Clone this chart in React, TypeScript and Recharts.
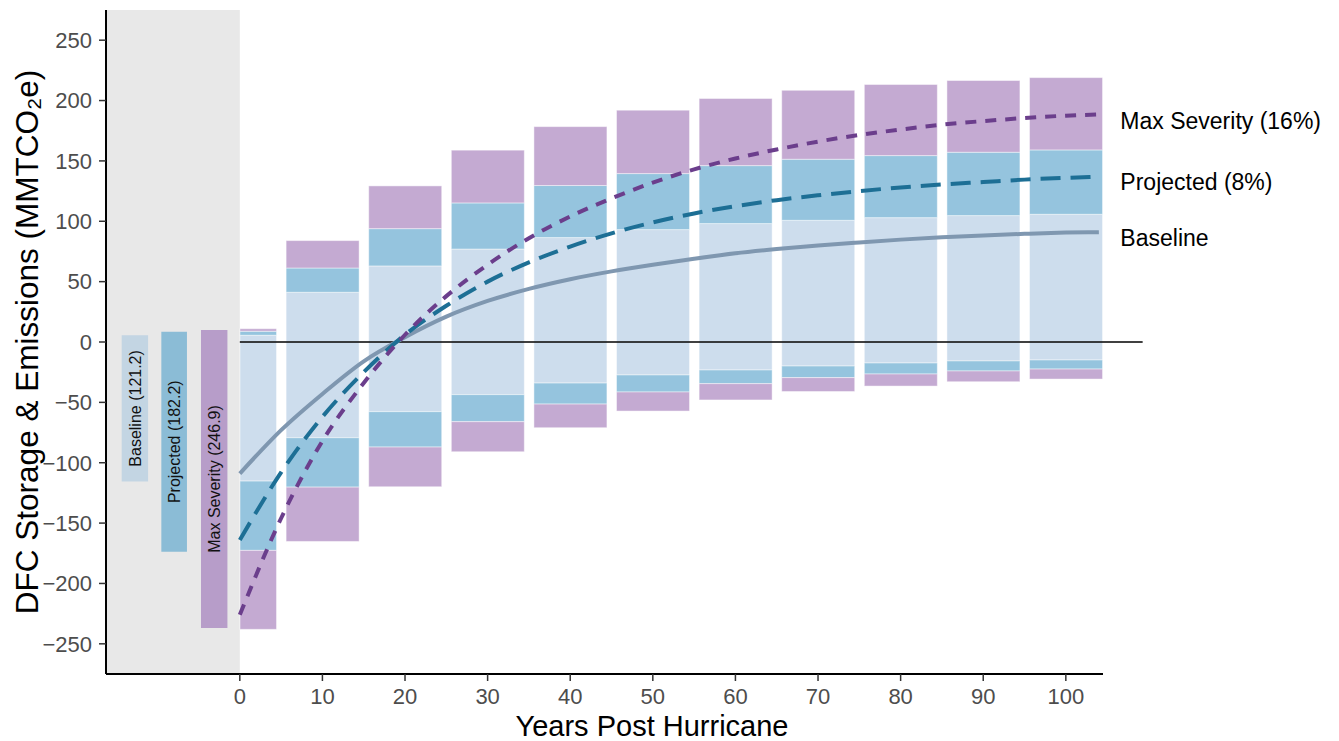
import React from 'react';
import { ComposedChart, Bar, Line, XAxis, YAxis, ReferenceArea, ReferenceLine, ReferenceDot, Label } from 'recharts';

const FONT = '"Liberation Sans", Arial, Helvetica, sans-serif';

// stacked bars: cumulative levels read at each decade
const years = [0, 10, 20, 30, 40, 50, 60, 70, 80, 90, 100];
const baselineTop = [5.6, 41.2, 63, 77, 86.5, 93.1, 98.1, 100.8, 103, 104.7, 105.8];
const projectedTop = [8.9, 61.3, 93.9, 115.2, 129.6, 139.5, 146.1, 151.4, 154.4, 157.2, 159.1];
const maxTop = [11, 84, 129.3, 158.9, 178.4, 192, 201.7, 208.5, 213.3, 216.6, 219];
const baselineBottom = [-115.2, -79.3, -57.7, -43.6, -34, -27.3, -23.2, -19.9, -17.4, -15.7, -14.9];
const projectedBottom = [-172.6, -120.2, -87, -66, -51.4, -41.4, -34.5, -29.5, -26.5, -24, -22.4];
const maxBottom = [-238, -165.2, -119.9, -90.9, -71, -57.2, -48, -41, -36.5, -32.9, -30.7];

// net curves
const lineYears = [0, 5, 10, 15, 20, 25, 30, 35, 40, 45, 50, 55, 60, 65, 70, 75, 80, 85, 90, 95, 100, 104];
const baselineLine = [-109, -73, -43, -16, 4, 21, 34, 44, 52, 58.5, 64, 69, 73.5, 77, 80, 82.5, 84.8, 86.7, 88.3, 89.6, 90.6, 91];
const projectedLine = [-164, -108, -62, -25, 6, 30, 50, 66, 79, 90, 99, 106.5, 112.5, 117.5, 121.5, 125, 128, 130.5, 132.5, 134.5, 136, 137];
const maxLine = [-226, -146, -82, -34, 6, 38, 64, 86, 104, 119, 132, 143, 152, 159.5, 166, 171.5, 176, 180, 183, 185.5, 187.5, 188.5];

// totals key in the grey panel
const keyNames = ['Baseline (121.2)', 'Projected (182.2)', 'Max Severity (246.9)'];
const keyLeft = [-14.3, -9.5, -4.7];
const keyRight = [-11.1, -6.4, -1.5];
const keyLow = [-115.6, -173.7, -236.9];
const keyHigh = [5.6, 8.5, 10];

const endNames = ['Max Severity (16%)', 'Projected (8%)', 'Baseline'];
const endY = [183, 133, 86];
const endX = 106.6;

const xTicks = [0, 10, 20, 30, 40, 50, 60, 70, 80, 90, 100];
const yTicks = [-250, -200, -150, -100, -50, 0, 50, 100, 150, 200, 250];
const X_DOMAIN = [-16.2, 104.5];
const Y_DOMAIN = [-275, 275];

const barRows = years.map((year, i) => ({
    year,
    base: baselineTop[i],
    proj: projectedTop[i] - baselineTop[i],
    max: maxTop[i] - projectedTop[i],
    baseNeg: baselineBottom[i],
    projNeg: projectedBottom[i] - baselineBottom[i],
    maxNeg: maxBottom[i] - projectedBottom[i],
}));

const toSeries = (vals: number[]) => lineYears.map((year, i) => ({ year, v: vals[i] }));

const keyColors = ['#c3d5e3', '#8bbcd6', '#b79dc9'];
const barColors = { base: '#cddded', proj: '#95c4de', max: '#c4aad2' };

// bar at year 0 only shows its right half (left half sits under the grey panel)
function barShape(fill: string) {
    return (props: any) => {
        const { x, y, width, height } = props;
        const yr = props.payload ? props.payload.year : props.year;
        let left = x;
        let w = width;
        if (yr === 0) {
            left = x + width / 2;
            w = width / 2;
        }
        const top = height < 0 ? y + height : y;
        return (
            <rect x={left} y={top} width={w} height={Math.abs(height)} fill={fill}
                stroke="#ffffff" strokeOpacity={0.45} strokeWidth={1} />
        );
    };
}

function YTitle(props: any) {
    const { viewBox } = props;
    const cx = 38;
    const cy = viewBox.y + viewBox.height / 2;
    return (
        <text x={cx} y={cy} transform={`rotate(-90 ${cx} ${cy})`} textAnchor="middle"
            fontSize={31.5} fill="#000" fontFamily={FONT}>
            DFC Storage &amp; Emissions (MMTCO₂e)
        </text>
    );
}

function XTitle() {
    return (
        <text x={652} y={736} textAnchor="middle" fontSize={29} fill="#000" fontFamily={FONT}>
            Years Post Hurricane
        </text>
    );
}

// tick text drawn with explicit size
function XTick(props: any) {
    const { x, y, payload } = props;
    return (
        <text x={x} y={y} dy="0.71em" textAnchor="middle" fontSize={22} fill="#4d4d4d" fontFamily={FONT}>
            {payload.value}
        </text>
    );
}

function YTick(props: any) {
    const { x, y, payload } = props;
    const v = payload.value;
    return (
        <text x={x} y={y} dy="0.355em" textAnchor="end" fontSize={22} fill="#4d4d4d" fontFamily={FONT}>
            {v < 0 ? `\u2212${Math.abs(v)}` : `${v}`}
        </text>
    );
}

export default function App() {
    return (
        <div style={{ width: 1339, height: 741, fontFamily: FONT, background: '#fff' }}>
            <style>{`body{margin:0}`}</style>
            <ComposedChart
                width={1339}
                height={741}
                data={barRows}
                stackOffset="sign"
                margin={{ top: 10, right: 236, bottom: 17, left: 16 }}
                style={{ fontFamily: FONT }}
            >
                <XAxis
                    dataKey="year"
                    type="number"
                    domain={X_DOMAIN}
                    allowDataOverflow
                    ticks={xTicks}
                    interval={0}
                    height={50}
                    axisLine={{ stroke: '#000', strokeWidth: 2 }}
                    tickLine={{ stroke: '#333', strokeWidth: 1.5 }}
                    tickSize={7}
                    tickMargin={7}
                    tick={<XTick />}
                    label={<Label content={<XTitle />} />}
                />
                <XAxis xAxisId="curves" dataKey="year" type="number" domain={X_DOMAIN} allowDataOverflow hide />
                <YAxis
                    type="number"
                    domain={Y_DOMAIN}
                    allowDataOverflow
                    ticks={yTicks}
                    interval={0}
                    width={90}
                    axisLine={{ stroke: '#000', strokeWidth: 2 }}
                    tickLine={{ stroke: '#333', strokeWidth: 1.5 }}
                    tickSize={7}
                    tickMargin={7}
                    tick={<YTick />}
                    label={<Label content={<YTitle />} />}
                />

                <ReferenceArea x1={X_DOMAIN[0]} x2={0} y1={Y_DOMAIN[0]} y2={Y_DOMAIN[1]}
                    fill="#e8e8e8" fillOpacity={1} stroke="none" ifOverflow="hidden" />
                {keyNames.map((name, i) => (
                    <ReferenceArea key={name} x1={keyLeft[i]} x2={keyRight[i]} y1={keyLow[i]} y2={keyHigh[i]}
                        fill={keyColors[i]} fillOpacity={1} stroke="none"
                        label={{ value: name, angle: -90, position: 'center', fontSize: 16, fill: '#111' }} />
                ))}

                <Bar dataKey="base" stackId="s" barSize={73} fill={barColors.base} shape={barShape(barColors.base)} isAnimationActive={false} />
                <Bar dataKey="proj" stackId="s" barSize={73} fill={barColors.proj} shape={barShape(barColors.proj)} isAnimationActive={false} />
                <Bar dataKey="max" stackId="s" barSize={73} fill={barColors.max} shape={barShape(barColors.max)} isAnimationActive={false} />
                <Bar dataKey="baseNeg" stackId="s" barSize={73} fill={barColors.base} shape={barShape(barColors.base)} isAnimationActive={false} />
                <Bar dataKey="projNeg" stackId="s" barSize={73} fill={barColors.proj} shape={barShape(barColors.proj)} isAnimationActive={false} />
                <Bar dataKey="maxNeg" stackId="s" barSize={73} fill={barColors.max} shape={barShape(barColors.max)} isAnimationActive={false} />

                <ReferenceLine segment={[{ x: 0, y: 0 }, { x: 109.3, y: 0 }]} stroke="#000" strokeWidth={1.6} ifOverflow="visible" />

                <Line xAxisId="curves" data={toSeries(baselineLine)} dataKey="v" type="monotone"
                    stroke="#7f97b0" strokeWidth={4} dot={false} activeDot={false} isAnimationActive={false} />
                <Line xAxisId="curves" data={toSeries(projectedLine)} dataKey="v" type="monotone"
                    stroke="#1d6f95" strokeWidth={4} strokeDasharray="20 10" dot={false} activeDot={false} isAnimationActive={false} />
                <Line xAxisId="curves" data={toSeries(maxLine)} dataKey="v" type="monotone"
                    stroke="#6b3e8c" strokeWidth={4} strokeDasharray="11 9" dot={false} activeDot={false} isAnimationActive={false} />

                {endNames.map((name, i) => (
                    <ReferenceDot key={name} x={endX} y={endY[i]} r={0} fill="none" stroke="none" ifOverflow="visible"
                        label={{ value: name, position: 'right', offset: 0, fontSize: 23, fill: '#000' }} />
                ))}
            </ComposedChart>
        </div>
    );
}
